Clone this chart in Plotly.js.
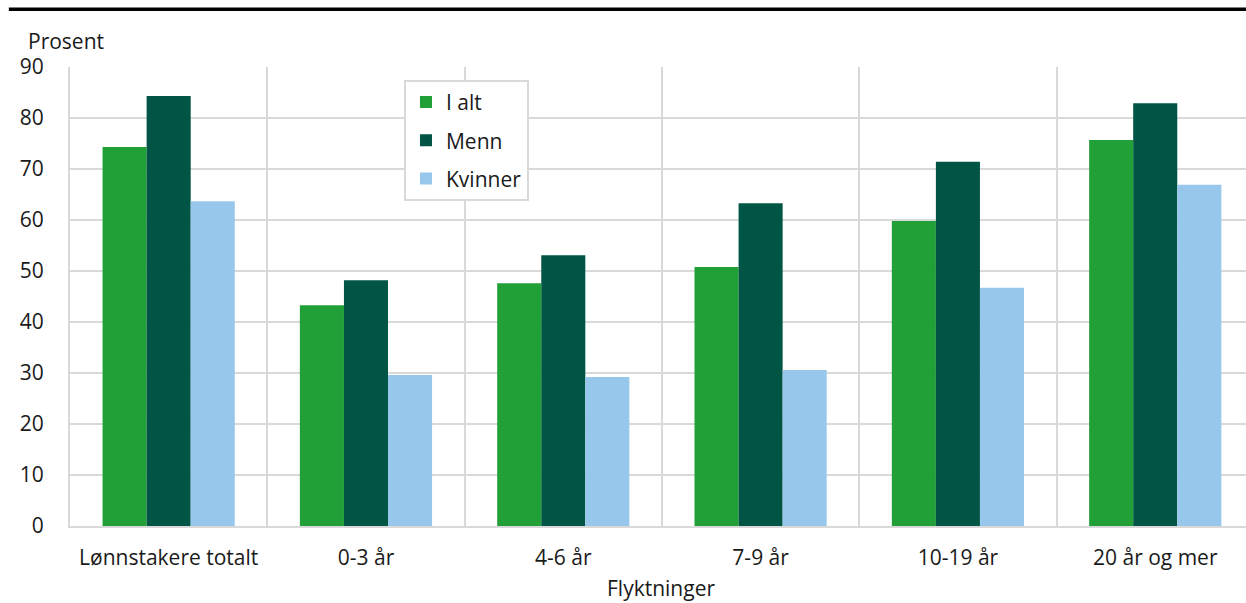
<!DOCTYPE html>
<html><head><meta charset="utf-8">
<script src="https://cdn.plot.ly/plotly-3.0.1.min.js"></script>
<style>html,body{margin:0;padding:0;background:#fff}#chart{width:1246px;height:603px}</style>
</head><body><div id="chart"></div>
<script>
const categories = ["Lønnstakere totalt", "0-3 år", "4-6 år", "7-9 år", "10-19 år", "20 år og mer"];
const iAlt =    [74.3, 43.3, 47.6, 50.8, 59.8, 75.7];
const menn =    [84.3, 48.2, 53.1, 63.3, 71.4, 82.9];
const kvinner = [63.7, 29.6, 29.2, 30.6, 46.7, 66.9];
const seriesNames = ["I alt", "Menn", "Kvinner"];
const yTicks = [0, 10, 20, 30, 40, 50, 60, 70, 80, 90];

const colors = ["#21a038", "#005544", "#97c8eb"];
const vals = [iAlt, menn, kvinner];
const traces = vals.map((v, i) => ({
  type: "bar", x: categories, y: v, name: seriesNames[i],
  marker: {color: colors[i], line: {width: 0}},
  legendgroup: "g" + i, hoverinfo: "skip"
}));
const font = {family: "Open Sans, Noto Sans, sans-serif", size: 21, color: "#1a1a1a"};
const layout = {
  width: 1246, height: 603,
  margin: {l: 70, r: 0, t: 67, b: 77},
  paper_bgcolor: "#fff", plot_bgcolor: "#fff",
  font: font,
  barmode: "group", bargap: 0.33, bargroupgap: 0,
  showlegend: true,
  legend: {
    x: 0.284, y: 0.972, xanchor: "left", yanchor: "top",
    bordercolor: "#d9d9d9", borderwidth: 2, bgcolor: "#fff",
    font: font, tracegroupgap: 8, itemwidth: 30
  },
  xaxis: {
    type: "category", range: [-0.5, 5.46],
    tickson: "boundaries", showgrid: true, gridcolor: "#d9d9d9", gridwidth: 2,
    showline: true, linecolor: "#d9d9d9", linewidth: 2,
    ticks: "", tickfont: font, ticklabelstandoff: 12
  },
  yaxis: {
    range: [0, 90], tickvals: yTicks, showgrid: true, gridcolor: "#d9d9d9", gridwidth: 2,
    showline: true, linecolor: "#d9d9d9", linewidth: 2, zeroline: false,
    ticks: "", tickfont: font, ticklabelstandoff: 20
  },
  shapes: [{type: "line", xref: "paper", yref: "paper", x0: -0.052, x1: 1.0, y0: 1.126, y1: 1.126,
    line: {color: "#000", width: 3.5}}],
  annotations: [
    {text: "Prosent", xref: "paper", yref: "paper", x: -0.037, y: 1.057,
     xanchor: "left", yanchor: "middle", showarrow: false, font: font},
    {text: "Flyktninger", xref: "paper", yref: "paper", x: 0.5026, y: -0.134,
     xanchor: "center", yanchor: "middle", showarrow: false, font: font}
  ]
};
Plotly.newPlot("chart", traces, layout, {displayModeBar: false, staticPlot: true});
</script></body></html>
